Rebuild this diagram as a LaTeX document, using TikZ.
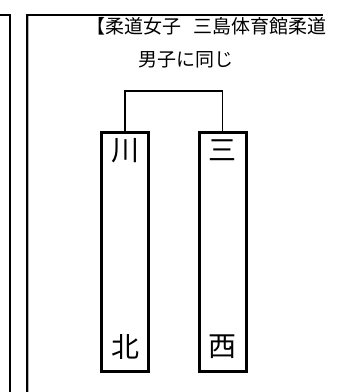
\documentclass[tikz,border=0pt]{standalone}
\usepackage{fontspec}
\newfontfamily\cjk{Noto Sans CJK JP}
\begin{document}
\begin{tikzpicture}[x=1pt,y=-1pt,
  frame/.style={line width=1.1pt,black},
  shadowline/.style={line width=1pt,gray!60},
  team/.style={draw,line width=3pt,minimum width=47pt,minimum height=239pt,inner sep=0pt},
  kanji/.style={font=\cjk\fontsize{28}{28}\selectfont,inner sep=0pt},
  captext/.style={font=\cjk\fontsize{19}{20}\selectfont,inner sep=0pt},
  bracket/.style={line width=1.2pt}]
\useasboundingbox (0,0) rectangle (339,392);
% frames
\draw[frame] (0,15) -- (10,15) -- (10,392);
\draw[frame] (27,392) -- (27,15) -- (323,15);
\draw[shadowline] (28.8,16) -- (28.8,392);
% texts
\node[captext,anchor=east] (title) at (326.5,26) {【柔道女子\hspace{0.6em}三島体育館柔道};
\node[captext] (same) at (186.5,60) {男子に同じ};
% team boxes
\node[team] (a) at (125,252) {};
\node[team] (b) at (222.5,252) {};
\node[kanji] (a1) at (125,150.5) {川};
\node[kanji] (a2) at (125,347) {北};
\node[kanji] (b1) at (222.5,150.5) {三};
\node[kanji] (b2) at (222.5,347) {西};
% bracket
\coordinate (top) at (0,91);
\draw[bracket] (a.north) -- (a.north |- top) -| (b.north);
\end{tikzpicture}
\end{document}
